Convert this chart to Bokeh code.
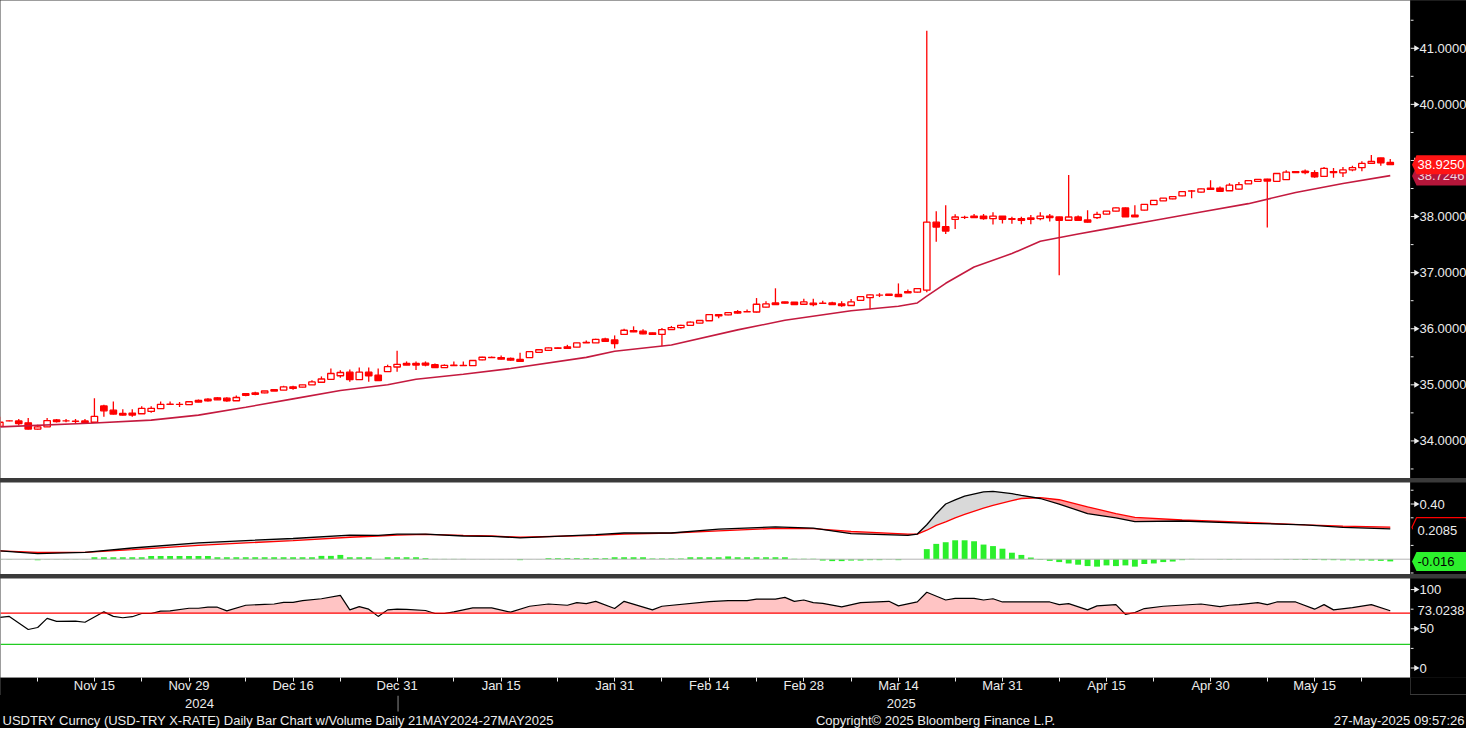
import math
import pandas as pd
from bokeh.plotting import figure
from bokeh.models import Range1d, FixedTicker, Span
from bokeh.layouts import column, row
from bokeh.core.properties import value
from bokeh.embed import file_html
from bokeh.resources import INLINE

# ---------------- data ----------------
dates = pd.bdate_range("2024-11-01", "2025-05-27")   # one candle per weekday
day = list(range(len(dates)))

open_ = [34.258, 34.356, 34.356, 34.322, 34.211, 34.252, 34.374, 34.356, 34.350, 34.356,
         34.333, 34.623, 34.548, 34.490, 34.496, 34.484, 34.525, 34.577, 34.650, 34.652,
         34.646, 34.722, 34.745, 34.768, 34.762, 34.716, 34.843, 34.855, 34.855, 34.913,
         34.907, 34.965, 34.959, 35.000, 35.046, 35.098, 35.162, 35.225, 35.092, 35.225,
         35.173, 35.237, 35.318, 35.382, 35.382, 35.388, 35.359, 35.307, 35.345, 35.345,
         35.342, 35.446, 35.486, 35.486, 35.469, 35.452, 35.486, 35.579, 35.614, 35.660,
         35.678, 35.672, 35.750, 35.747, 35.817, 35.800, 35.898, 35.968, 35.956, 35.927,
         35.898, 35.985, 36.020, 36.060, 36.101, 36.142, 36.252, 36.246, 36.304, 36.300,
         36.298, 36.385, 36.460, 36.478, 36.472, 36.437, 36.455, 36.453, 36.460, 36.443,
         36.414, 36.507, 36.553, 36.600, 36.617, 36.611, 36.663, 36.652, 36.687, 37.899,
         37.818, 37.951, 37.985, 38.009, 38.009, 37.963, 38.009, 37.963, 37.963, 37.974,
         37.963, 38.009, 37.992, 37.934, 37.992, 37.940, 37.980, 38.044, 38.096, 38.154,
         38.026, 38.113, 38.211, 38.281, 38.316, 38.368, 38.455, 38.437, 38.507, 38.507,
         38.460, 38.489, 38.582, 38.629, 38.669, 38.629, 38.658, 38.802, 38.808, 38.785,
         38.716, 38.802, 38.779, 38.831, 38.872, 38.947, 39.046, 38.965]
high = [34.432, 34.365, 34.391, 34.409, 34.287, 34.409, 34.391, 34.391, 34.391, 34.391,
        34.762, 34.646, 34.704, 34.565, 34.565, 34.617, 34.617, 34.704, 34.704, 34.693,
        34.700, 34.739, 34.762, 34.780, 34.780, 34.809, 34.850, 34.878, 34.890, 34.915,
        34.983, 34.983, 35.000, 35.080, 35.150, 35.289, 35.260, 35.272, 35.307, 35.307,
        35.289, 35.359, 35.608, 35.417, 35.417, 35.417, 35.382, 35.365, 35.417, 35.417,
        35.440, 35.500, 35.504, 35.521, 35.486, 35.573, 35.600, 35.640, 35.665, 35.665,
        35.713, 35.750, 35.790, 35.820, 35.840, 35.881, 36.000, 36.043, 35.991, 35.930,
        36.014, 36.050, 36.070, 36.130, 36.150, 36.260, 36.260, 36.290, 36.333, 36.344,
        36.547, 36.490, 36.721, 36.480, 36.475, 36.536, 36.536, 36.501, 36.480, 36.490,
        36.530, 36.580, 36.610, 36.634, 36.620, 36.808, 36.700, 36.720, 41.313, 38.096,
        38.200, 38.040, 38.015, 38.044, 38.044, 38.079, 38.010, 37.998, 37.998, 38.027,
        38.079, 38.044, 37.995, 38.739, 38.020, 38.113, 38.084, 38.100, 38.160, 38.160,
        38.200, 38.220, 38.290, 38.330, 38.360, 38.450, 38.472, 38.500, 38.646, 38.536,
        38.594, 38.617, 38.650, 38.670, 38.675, 38.770, 38.826, 38.805, 38.837, 38.826,
        38.884, 38.866, 38.884, 38.907, 38.988, 39.098, 39.050, 39.028]
low = [34.250, 34.350, 34.275, 34.205, 34.205, 34.248, 34.327, 34.333, 34.310, 34.310,
       34.330, 34.432, 34.470, 34.455, 34.432, 34.480, 34.501, 34.577, 34.645, 34.606,
       34.640, 34.690, 34.704, 34.730, 34.698, 34.716, 34.797, 34.814, 34.850, 34.890,
       34.907, 34.913, 34.955, 35.000, 35.040, 35.098, 35.127, 35.057, 35.090, 35.057,
       35.070, 35.237, 35.231, 35.350, 35.266, 35.330, 35.300, 35.300, 35.340, 35.340,
       35.340, 35.440, 35.480, 35.450, 35.430, 35.410, 35.486, 35.570, 35.610, 35.640,
       35.640, 35.670, 35.750, 35.745, 35.770, 35.649, 35.890, 35.940, 35.900, 35.890,
       35.689, 35.980, 36.000, 36.050, 36.100, 36.140, 36.188, 36.240, 36.270, 36.300,
       36.290, 36.380, 36.430, 36.450, 36.430, 36.430, 36.403, 36.450, 36.425, 36.390,
       36.410, 36.500, 36.345, 36.565, 36.590, 36.570, 36.640, 36.645, 36.650, 37.551,
       37.690, 37.777, 37.957, 37.975, 37.945, 37.858, 37.876, 37.870, 37.864, 37.864,
       37.934, 37.910, 36.954, 37.930, 37.930, 37.895, 37.957, 38.040, 38.090, 37.990,
       37.990, 38.110, 38.210, 38.280, 38.310, 38.360, 38.327, 38.430, 38.480, 38.445,
       38.455, 38.480, 38.580, 38.620, 37.805, 38.620, 38.650, 38.780, 38.756, 38.692,
       38.710, 38.692, 38.704, 38.808, 38.808, 38.940, 38.907, 38.920]
close = [34.333, 34.357, 34.310, 34.211, 34.252, 34.362, 34.345, 34.357, 34.351, 34.327,
         34.438, 34.536, 34.478, 34.461, 34.461, 34.582, 34.582, 34.652, 34.655, 34.653,
         34.698, 34.693, 34.716, 34.733, 34.716, 34.774, 34.814, 34.832, 34.890, 34.890,
         34.965, 34.936, 35.000, 35.052, 35.104, 35.202, 35.220, 35.092, 35.225, 35.162,
         35.075, 35.324, 35.365, 35.353, 35.353, 35.353, 35.307, 35.347, 35.350, 35.348,
         35.434, 35.492, 35.490, 35.457, 35.440, 35.417, 35.591, 35.625, 35.660, 35.650,
         35.649, 35.747, 35.755, 35.811, 35.777, 35.736, 35.973, 35.944, 35.910, 35.898,
         35.985, 36.020, 36.060, 36.118, 36.147, 36.252, 36.229, 36.287, 36.281, 36.305,
         36.437, 36.443, 36.431, 36.455, 36.431, 36.478, 36.431, 36.455, 36.431, 36.414,
         36.478, 36.571, 36.605, 36.601, 36.594, 36.571, 36.640, 36.716, 37.899, 37.812,
         37.742, 37.992, 37.986, 37.980, 37.963, 38.009, 37.951, 37.951, 37.934, 37.951,
         38.009, 37.980, 37.934, 37.992, 37.934, 37.899, 38.038, 38.096, 38.154, 37.997,
         37.997, 38.218, 38.287, 38.327, 38.356, 38.443, 38.456, 38.495, 38.484, 38.449,
         38.559, 38.571, 38.640, 38.663, 38.634, 38.768, 38.791, 38.785, 38.785, 38.710,
         38.860, 38.785, 38.831, 38.872, 38.947, 38.982, 38.959, 38.925]

# moving average (read at sample days)
ma_day = [0, 10, 16, 21, 26, 31, 36, 41, 44, 49, 54, 62, 65, 71, 78, 83, 90, 95, 97, 98,
          100, 103, 107, 110, 114, 117, 122, 127, 132, 137, 142, 147]
ma_val = [34.25, 34.32, 34.37, 34.46, 34.60, 34.75, 34.90, 35.00, 35.10, 35.19, 35.29,
          35.49, 35.60, 35.71, 35.98, 36.15, 36.32, 36.40, 36.46, 36.58, 36.81, 37.10,
          37.34, 37.56, 37.69, 37.78, 37.93, 38.08, 38.23, 38.43, 38.59, 38.73]

# MACD (read at sample days)
macd_day = [0, 4, 9, 14, 21, 26, 31, 37, 40, 42, 45, 49, 52, 55, 63, 66, 71, 76, 82, 86,
            90, 96, 97, 98, 99, 100, 101, 102, 104, 105, 107, 108, 110, 112, 115, 118, 120,
            125, 132, 138, 142, 147]
macd_line = [0.06, 0.04, 0.05, 0.081, 0.119, 0.135, 0.15, 0.175, 0.172, 0.182, 0.182, 0.168,
             0.166, 0.155, 0.178, 0.19, 0.19, 0.218, 0.234, 0.225, 0.185, 0.173, 0.182, 0.25,
             0.33, 0.40, 0.43, 0.457, 0.488, 0.492, 0.475, 0.462, 0.44, 0.40, 0.33, 0.30,
             0.272, 0.277, 0.26, 0.249, 0.23, 0.22]
macd_signal = [0.06, 0.05, 0.05, 0.069, 0.10, 0.118, 0.135, 0.159, 0.168, 0.175, 0.18, 0.172,
               0.168, 0.159, 0.172, 0.182, 0.19, 0.205, 0.223, 0.222, 0.201, 0.182, 0.182,
               0.21, 0.245, 0.27, 0.30, 0.325, 0.37, 0.39, 0.425, 0.44, 0.447, 0.431, 0.38,
               0.33, 0.303, 0.284, 0.267, 0.249, 0.24, 0.232]
macd_hist = [0.001, 0.001, 0.0, -0.002, -0.007, 0.002, 0.002, 0.002, 0.002, 0.002,
             0.014, 0.014, 0.014, 0.014, 0.014, 0.014, 0.024, 0.024, 0.024, 0.024,
             0.024, 0.024, 0.024, 0.014, 0.014, 0.014, 0.014, 0.014, 0.014, 0.014,
             0.014, 0.014, 0.014, 0.014, 0.024, 0.024, 0.031, 0.014, 0.014, 0.014,
             0.002, 0.014, 0.014, 0.014, 0.014, 0.007, 0.002, 0.002, 0.002, 0.002,
             0.001, 0.001, 0.001, 0.001, 0.001, -0.007, 0.001, 0.001, 0.007, 0.007,
             0.007, 0.007, 0.007, 0.007, 0.007, 0.014, 0.014, 0.014, 0.014, 0.005,
             0.005, 0.005, 0.005, 0.014, 0.014, 0.014, 0.014, 0.02, 0.014, 0.014,
             0.014, 0.014, 0.014, 0.014, 0.003, 0.003, 0.003, -0.01, -0.014, -0.014,
             -0.01, -0.01, -0.007, -0.007, -0.002, -0.007, 0.0, 0.0, 0.073, 0.111,
             0.123, 0.137, 0.137, 0.130, 0.106, 0.095, 0.076, 0.047, 0.031, 0.012,
             -0.004, -0.012, -0.021, -0.031, -0.04, -0.05, -0.054, -0.045, -0.05, -0.045,
             -0.054, -0.035, -0.031, -0.021, -0.017, -0.007, 0.002, 0.001, 0.0, -0.002,
             -0.003, -0.002, 0.0, 0.001, 0.0, -0.002, -0.003, -0.004, -0.006, -0.006,
             -0.007, -0.007, -0.008, -0.008, -0.009, -0.01, -0.012, -0.016]

# RSI (read at sample days)
rsi_day = [0, 1, 3, 4, 5, 6, 8, 9, 11, 12, 13, 14, 15, 16, 17, 18, 20, 21, 22, 23, 24, 26,
           28, 29, 30, 31, 32, 34, 36, 37, 38, 39, 40, 41, 42, 43, 45, 46, 47, 48, 50, 52,
           54, 56, 58, 60, 61, 62, 63, 65, 66, 69, 70, 75, 77, 79, 80, 82, 83, 84, 85, 86,
           87, 89, 91, 94, 95, 97, 98, 100, 101, 103, 104, 105, 106, 111, 112, 113, 115,
           116, 118, 119, 120, 121, 123, 127, 129, 130, 131, 133, 134, 135, 137, 139, 140,
           141, 143, 145, 147]
rsi_val = [64.5, 65.8, 49.1, 51.6, 63.3, 59.5, 59.8, 58.3, 71.6, 65.8, 64.1, 65.4, 69.5,
           69.5, 72.5, 72.9, 76.2, 76.2, 77.5, 77.5, 72.9, 80.0, 81.2, 81.6, 83.7, 83.7,
           85.8, 88.3, 92.5, 74.1, 78.3, 75.0, 65.8, 74.1, 75.0, 74.8, 73.3, 69.5, 69.5,
           71.6, 76.6, 76.6, 71.2, 78.7, 81.6, 80.0, 83.3, 82.0, 85.0, 75.8, 85.0, 74.1,
           78.7, 84.5, 85.8, 85.8, 87.9, 87.9, 90.0, 85.0, 86.7, 83.3, 82.5, 77.9, 83.3,
           85.0, 79.2, 84.2, 96.6, 86.7, 88.7, 88.7, 86.7, 88.3, 84.2, 84.2, 80.8, 82.0,
           74.1, 79.2, 80.8, 68.3, 70.8, 75.8, 78.7, 81.6, 78.3, 80.0, 80.8, 83.3, 80.8,
           84.2, 84.2, 75.0, 80.8, 74.1, 77.0, 80.8, 73.0]

tick_dates = ["2024-11-15", "2024-11-29", "2024-12-16", "2024-12-31", "2025-01-15",
              "2025-01-31", "2025-02-14", "2025-02-28", "2025-03-14", "2025-03-31",
              "2025-04-15", "2025-04-30", "2025-05-15"]
tick_labels = ["Nov 15", "Nov 29", "Dec 16", "Dec 31", "Jan 15", "Jan 31", "Feb 14",
               "Feb 28", "Mar 14", "Mar 31", "Apr 15", "Apr 30", "May 15"]
minor_dates = ["2024-11-07", "2024-11-22", "2024-12-09", "2024-12-23", "2025-01-08",
               "2025-01-23", "2025-02-07", "2025-02-21", "2025-03-07", "2025-03-24",
               "2025-04-08", "2025-04-22", "2025-05-08", "2025-05-22"]
year_labels = ["2024", "2025"]
year_under = ["2024-11-29", "2025-03-14"]

price_ticks = [34, 35, 36, 37, 38, 39, 40, 41]
price_tick_labels = ["34.0000", "35.0000", "36.0000", "37.0000", "38.0000", "", "40.0000",
                     "41.0000"]
price_minor = [33.5, 34.5, 35.5, 36.5, 37.5, 38.5, 39.5, 40.5, 41.5]
macd_ticks = [0.4]
macd_tick_labels = ["0.40"]
macd_minor = [-0.1, 0.1, 0.3, 0.5]
rsi_ticks = [0, 50, 100]
rsi_tick_labels = ["0", "50", "100"]
rsi_minor = [25, 75]
rsi_levels = [70, 30]

last_close = 38.9250
last_ma = 38.7246
last_signal = 0.232
last_macd = 0.2085
last_hist = -0.016
last_rsi = 73.0238

title_text = "USDTRY Curncy (USD-TRY X-RATE) Daily Bar Chart w/Volume  Daily 21MAY2024-27MAY2025"
copyright_text = "Copyright\u00a9 2025 Bloomberg Finance L.P."
stamp_text = "27-May-2025 09:57:26"

# ---------------- styling / layout ----------------
FONT = value("Liberation Sans")
TXT = "#ececec"
RED = "#ff0000"
W = 1410          # plot-area width
AXW = 56          # right axis strip
H_MAIN, H_MACD, H_RSI, H_XAX, H_FOOT = 478, 92, 99, 17, 33
X0, X1 = 0.07, 149.14
PXU = W / (X1 - X0)   # pixels per trading day


def idx(d):
    return int(dates.get_loc(pd.Timestamp(d)))


xr = Range1d(X0, X1)


def panel(h, yr, bottom=0):
    p = figure(frame_width=W, frame_height=h, x_range=xr, y_range=yr, title=None,
               output_backend="svg", toolbar_location=None, y_axis_location=None,
               x_axis_location=("below" if bottom else None),
               min_border_left=0, min_border_top=0, min_border_right=0,
               min_border_bottom=bottom, background_fill_color="white",
               border_fill_color="black", outline_line_color=None)
    p.xgrid.visible = False
    p.ygrid.visible = False
    return p


def strip(h, yr, ticks, labels, minor, bottom=0):
    s = figure(frame_width=AXW, frame_height=h, x_range=Range1d(0, AXW), y_range=yr,
               title=None, output_backend="svg", toolbar_location=None,
               x_axis_location=None, y_axis_location=None,
               min_border_left=0, min_border_top=0, min_border_right=0,
               min_border_bottom=bottom, background_fill_color="black",
               border_fill_color="black", outline_line_color=None)
    s.xgrid.visible = False
    s.ygrid.visible = False
    s.segment(x0=0, y0=minor, x1=3, y1=minor, line_color=TXT, line_width=1)
    s.segment(x0=0, y0=ticks, x1=5, y1=ticks, line_color=TXT, line_width=1)
    s.scatter(x=[5.5] * len(ticks), y=ticks, marker="triangle", size=6, angle=-math.pi / 2,
              fill_color=TXT, line_color=None)
    s.text(x=[9] * len(ticks), y=ticks, text=labels, text_color=TXT, text_font=FONT,
           text_font_size="13px", text_baseline="middle", text_align="left")
    return s


def tag(s, yr, h, v, text, fill, fg, line=None):
    hh = 9.5 * (yr.end - yr.start) / h
    s.patch(x=[1.5, 6, AXW, AXW, 6], y=[v, v + hh, v + hh, v - hh, v - hh],
            fill_color=fill, line_color=line, line_width=1.2)
    if text:
        s.text(x=[7], y=[v], text=[text], text_color=fg, text_font=FONT,
               text_font_size="13px", text_baseline="middle", text_align="left")


# ---- main price panel ----
yr_m = Range1d(33.33, 41.852)
pm = panel(H_MAIN, yr_m)
pm.segment(day, low, day, high, line_color=RED, line_width=1.3)
up = [i for i in day if close[i] >= open_[i]]
dn = [i for i in day if close[i] < open_[i]]
pm.vbar(x=up, width=0.68, bottom=[open_[i] for i in up], top=[close[i] for i in up],
        fill_color="white", line_color=RED, line_width=1.3)
pm.vbar(x=dn, width=0.68, bottom=[close[i] for i in dn], top=[open_[i] for i in dn],
        fill_color=RED, line_color=RED, line_width=1.3)
pm.line(ma_day, ma_val, line_color="#c41a3f", line_width=1.6)

sm = strip(H_MAIN, yr_m, price_ticks, price_tick_labels, price_minor)
tag(sm, yr_m, H_MAIN, last_ma, f"{last_ma:.4f}", "#b5163a", "#f6d4dc")
tag(sm, yr_m, H_MAIN, last_close, f"{last_close:.4f}", "#ff1414", "white")

# ---- MACD panel ----
yr_d = Range1d(-0.111, 0.556)
pdm = panel(H_MACD, yr_d)
hi = [max(a, b) for a, b in zip(macd_line, macd_signal)]
lo = [min(a, b) for a, b in zip(macd_line, macd_signal)]
pdm.varea(x=macd_day, y1=macd_signal, y2=hi, fill_color="#d9d9d9")
pdm.varea(x=macd_day, y1=lo, y2=macd_signal, fill_color="#ff9494")
pdm.vbar(x=day, width=0.62, bottom=0, top=macd_hist, fill_color="#2cef2c", line_color=None)
pdm.add_layout(Span(location=0, dimension="width", line_color="#b4b4b4", line_width=1))
pdm.line(macd_day, macd_signal, line_color=RED, line_width=1.3)
pdm.line(macd_day, macd_line, line_color="black", line_width=1.3)

sd = strip(H_MACD, yr_d, macd_ticks, macd_tick_labels, macd_minor)
tag(sd, yr_d, H_MACD, last_signal, "", "black", TXT, line=RED)
tag(sd, yr_d, H_MACD, last_macd, f"{last_macd:.4f}", "black", TXT)
tag(sd, yr_d, H_MACD, last_hist, f"{last_hist:.3f}", "#2cf02c", "black")

# ---- RSI panel ----
yr_r = Range1d(-12.1, 114.1)
pr = panel(H_RSI, yr_r, bottom=H_XAX)
pr.varea(x=rsi_day, y1=rsi_levels[0], y2=[max(v, rsi_levels[0]) for v in rsi_val],
         fill_color="#ffc4c4")
pr.add_layout(Span(location=rsi_levels[0], dimension="width", line_color=RED, line_width=1.3))
pr.add_layout(Span(location=rsi_levels[1], dimension="width", line_color="#22cc22",
                   line_width=1.3))
pr.line(rsi_day, rsi_val, line_color="black", line_width=1.2)

xa = pr.xaxis[0]
xa.ticker = FixedTicker(ticks=[idx(d) for d in tick_dates],
                        minor_ticks=[idx(d) for d in minor_dates])
xa.major_label_overrides = {idx(d): lab for d, lab in zip(tick_dates, tick_labels)}
xa.axis_line_color = None
xa.major_tick_line_color = TXT
xa.minor_tick_line_color = TXT
xa.major_tick_in = 0
xa.major_tick_out = 4
xa.minor_tick_in = 0
xa.minor_tick_out = 4
xa.major_label_text_color = TXT
xa.major_label_text_font = "Liberation Sans"
xa.major_label_text_font_size = "13px"
xa.major_label_standoff = -4

sr = strip(H_RSI, yr_r, rsi_ticks, rsi_tick_labels, rsi_minor, bottom=H_XAX)
sr.text(x=[7], y=[last_rsi], text=[f"{last_rsi:.4f}"], text_color=TXT, text_font=FONT,
        text_font_size="13px", text_baseline="middle", text_align="left")

# ---- footer: year labels, year separator, caption ----
pf = figure(frame_width=W + AXW, frame_height=H_FOOT,
            x_range=Range1d(X0, X0 + (W + AXW) / PXU), y_range=Range1d(0, H_FOOT),
            title=None, output_backend="svg", toolbar_location=None,
            x_axis_location=None, y_axis_location=None,
            min_border_left=0, min_border_top=0, min_border_right=0, min_border_bottom=0,
            background_fill_color="black", border_fill_color="black", outline_line_color=None)
pf.xgrid.visible = False
pf.ygrid.visible = False
pf.text(x=[idx(year_under[0]) + 1.1, idx(year_under[1]) + 0.3], y=[H_FOOT - 8] * 2,
        text=year_labels, text_color=TXT, text_font=FONT, text_font_size="13px",
        text_align="center", text_baseline="middle")
sep = idx("2024-12-31") + 0.1
pf.segment(x0=[sep], y0=[H_FOOT], x1=[sep], y1=[H_FOOT - 16], line_color="#8c8c8c",
           line_width=1)
pf.text(x=[X0 + 2 / PXU], y=[8], text=[title_text], text_color=TXT, text_font=FONT,
        text_font_size="13px", text_align="left", text_baseline="middle")
pf.text(x=[X0 + 935 / PXU], y=[8], text=[copyright_text], text_color=TXT, text_font=FONT,
        text_font_size="13px", text_align="center", text_baseline="middle")
pf.text(x=[X0 + (W + AXW - 2) / PXU], y=[8], text=[stamp_text], text_color=TXT,
        text_font=FONT, text_font_size="13px", text_align="right", text_baseline="middle")

panels = column(row(pm, sm), row(pdm, sd), row(pr, sr), spacing=4,
                styles={"background-color": "#3a3a3a"})
layout = column(panels, pf, spacing=0, styles={"background-color": "black"})
open("out.html", "w").write(file_html(layout, INLINE))
